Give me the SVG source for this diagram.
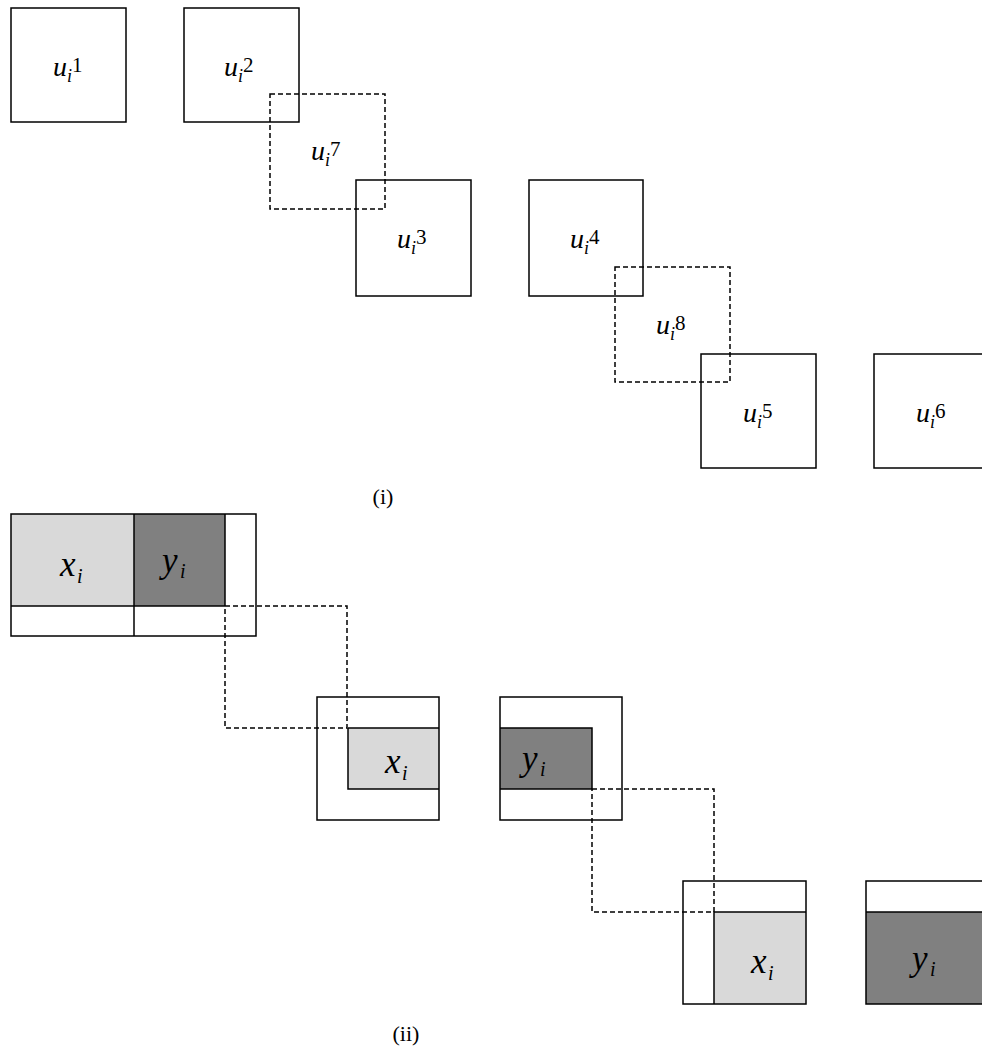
<svg xmlns="http://www.w3.org/2000/svg" width="982" height="1050" viewBox="0 0 982 1050">
<style>
.box{fill:none;stroke:#000;stroke-width:1.5}
.dash{fill:none;stroke:#000;stroke-width:1.5;stroke-dasharray:5,3}
.ln{stroke:#000;stroke-width:1.5;fill:none}
.lg{fill:#d9d9d9}
.dg{fill:#808080}
</style>
<rect width="982" height="1050" fill="#fff"/>

<!-- Part (i) -->
<g font-family="Liberation Serif, Times New Roman, serif" fill="#000">
<g id="u1"><rect class="box" x="11" y="8" width="115" height="114"/>
<text font-style="italic" font-size="28" x="53" y="76">u</text><text font-style="italic" font-size="18" x="67" y="82">i</text><text font-size="21" x="72" y="72">1</text></g>
<g id="u2"><rect class="box" x="184" y="8" width="115" height="114"/>
<text font-style="italic" font-size="28" x="224" y="76">u</text><text font-style="italic" font-size="18" x="238" y="82">i</text><text font-size="21" x="243" y="72">2</text></g>
<g id="u3"><rect class="box" x="356" y="180" width="115" height="116"/>
<text font-style="italic" font-size="28" x="397" y="248">u</text><text font-style="italic" font-size="18" x="411" y="254">i</text><text font-size="21" x="416" y="244">3</text></g>
<g id="u4"><rect class="box" x="529" y="180" width="114" height="116"/>
<text font-style="italic" font-size="28" x="570" y="248">u</text><text font-style="italic" font-size="18" x="584" y="254">i</text><text font-size="21" x="589" y="244">4</text></g>
<g id="u5"><rect class="box" x="701" y="354" width="115" height="114"/>
<text font-style="italic" font-size="28" x="743" y="422">u</text><text font-style="italic" font-size="18" x="757" y="428">i</text><text font-size="21" x="762" y="418">5</text></g>
<g id="u6"><rect class="box" x="874" y="354" width="115" height="114"/>
<text font-style="italic" font-size="28" x="916" y="422">u</text><text font-style="italic" font-size="18" x="930" y="428">i</text><text font-size="21" x="935" y="418">6</text></g>
<g id="u7"><rect class="dash" x="270" y="94" width="115" height="115"/>
<text font-style="italic" font-size="28" x="311" y="160">u</text><text font-style="italic" font-size="18" x="325" y="166">i</text><text font-size="21" x="330" y="156">7</text></g>
<g id="u8"><rect class="dash" x="615" y="267" width="115" height="115"/>
<text font-style="italic" font-size="28" x="656" y="334">u</text><text font-style="italic" font-size="18" x="670" y="340">i</text><text font-size="21" x="675" y="330">8</text></g>
<text font-size="22" text-anchor="middle" x="383" y="504">(i)</text>

<!-- Part (ii) -->
<g id="blockA">
<rect class="lg" x="11" y="514" width="123" height="92"/>
<rect class="dg" x="134" y="514" width="91" height="92"/>
<rect class="box" x="11" y="514" width="245" height="122"/>
<line class="ln" x1="134" y1="514" x2="134" y2="636"/>
<line class="ln" x1="225" y1="514" x2="225" y2="606"/>
<line class="ln" x1="11" y1="606" x2="225" y2="606"/>
<text font-style="italic" font-size="35" x="60" y="576">x</text><text font-style="italic" font-size="20" x="77" y="583">i</text>
<text font-style="italic" font-size="35" x="162" y="572">y</text><text font-style="italic" font-size="20" x="180" y="578">i</text>
</g>
<g id="blockB">
<rect class="lg" x="348" y="728" width="91" height="61"/>
<rect class="box" x="317" y="697" width="122" height="123"/>
<path class="ln" d="M348 728H439M348 728V789H439"/>
<text font-style="italic" font-size="35" x="385" y="773">x</text><text font-style="italic" font-size="20" x="402" y="780">i</text>
</g>
<g id="blockC">
<rect class="dg" x="500" y="728" width="92" height="61"/>
<rect class="box" x="500" y="697" width="122" height="123"/>
<path class="ln" d="M500 728H592V789H500"/>
<text font-style="italic" font-size="35" x="522" y="770">y</text><text font-style="italic" font-size="20" x="540" y="776">i</text>
</g>
<g id="blockD">
<rect class="lg" x="714" y="912" width="92" height="92"/>
<rect class="box" x="683" y="881" width="123" height="123"/>
<path class="ln" d="M714 1004V912H806"/>
<text font-style="italic" font-size="35" x="751" y="973">x</text><text font-style="italic" font-size="20" x="768" y="980">i</text>
</g>
<g id="blockE">
<rect class="dg" x="866" y="912" width="124" height="92"/>
<rect class="box" x="866" y="881" width="124" height="123"/>
<line class="ln" x1="866" y1="912" x2="990" y2="912"/>
<text font-style="italic" font-size="35" x="912" y="970">y</text><text font-style="italic" font-size="20" x="930" y="976">i</text>
</g>
<g id="connectors">
<rect class="dash" x="225" y="606" width="122" height="122"/>
<rect class="dash" x="592" y="789" width="122" height="123"/>
</g>
<text font-size="22" text-anchor="middle" x="406" y="1041">(ii)</text>
</g>
</svg>
